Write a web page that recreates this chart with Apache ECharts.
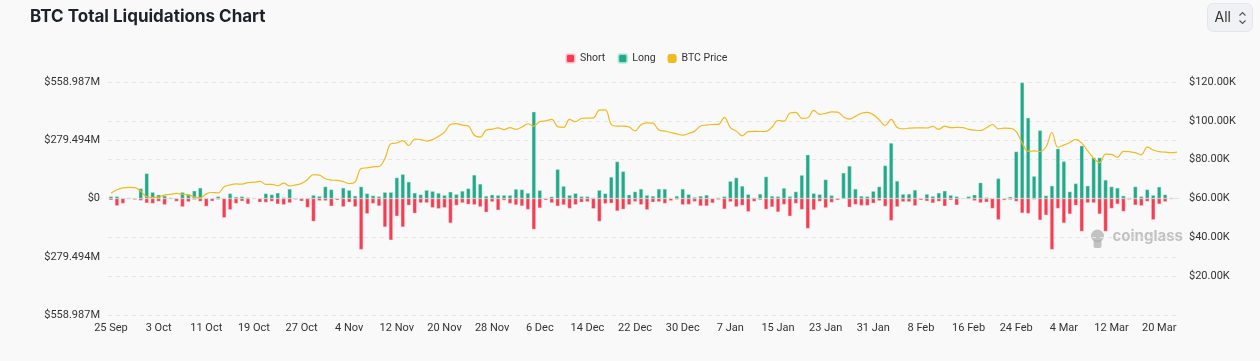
<!DOCTYPE html>
<html><head><meta charset="utf-8">
<script src="https://cdn.jsdelivr.net/npm/echarts@6/dist/echarts.min.js"></script>
<style>html,body{margin:0;padding:0;background:#f9f9f9;}#c{width:1260px;height:361px;}</style>
</head><body><div id="c"></div>
<script>
const dates = ['25 Sep','26 Sep','27 Sep','28 Sep','29 Sep','30 Sep',
'1 Oct','2 Oct','3 Oct','4 Oct','5 Oct','6 Oct','7 Oct','8 Oct','9 Oct','10 Oct','11 Oct','12 Oct','13 Oct','14 Oct','15 Oct','16 Oct','17 Oct','18 Oct','19 Oct','20 Oct','21 Oct','22 Oct','23 Oct','24 Oct','25 Oct','26 Oct','27 Oct','28 Oct','29 Oct','30 Oct','31 Oct',
'1 Nov','2 Nov','3 Nov','4 Nov','5 Nov','6 Nov','7 Nov','8 Nov','9 Nov','10 Nov','11 Nov','12 Nov','13 Nov','14 Nov','15 Nov','16 Nov','17 Nov','18 Nov','19 Nov','20 Nov','21 Nov','22 Nov','23 Nov','24 Nov','25 Nov','26 Nov','27 Nov','28 Nov','29 Nov','30 Nov',
'1 Dec','2 Dec','3 Dec','4 Dec','5 Dec','6 Dec','7 Dec','8 Dec','9 Dec','10 Dec','11 Dec','12 Dec','13 Dec','14 Dec','15 Dec','16 Dec','17 Dec','18 Dec','19 Dec','20 Dec','21 Dec','22 Dec','23 Dec','24 Dec','25 Dec','26 Dec','27 Dec','28 Dec','29 Dec','30 Dec','31 Dec',
'1 Jan','2 Jan','3 Jan','4 Jan','5 Jan','6 Jan','7 Jan','8 Jan','9 Jan','10 Jan','11 Jan','12 Jan','13 Jan','14 Jan','15 Jan','16 Jan','17 Jan','18 Jan','19 Jan','20 Jan','21 Jan','22 Jan','23 Jan','24 Jan','25 Jan','26 Jan','27 Jan','28 Jan','29 Jan','30 Jan','31 Jan',
'1 Feb','2 Feb','3 Feb','4 Feb','5 Feb','6 Feb','7 Feb','8 Feb','9 Feb','10 Feb','11 Feb','12 Feb','13 Feb','14 Feb','15 Feb','16 Feb','17 Feb','18 Feb','19 Feb','20 Feb','21 Feb','22 Feb','23 Feb','24 Feb','25 Feb','26 Feb','27 Feb','28 Feb',
'1 Mar','2 Mar','3 Mar','4 Mar','5 Mar','6 Mar','7 Mar','8 Mar','9 Mar','10 Mar','11 Mar','12 Mar','13 Mar','14 Mar','15 Mar','16 Mar','17 Mar','18 Mar','19 Mar','20 Mar','21 Mar','22 Mar','23 Mar'];

// Long liquidations, $M
const longLiq = [10,10,3,3,1,48,120,30,18,13,
4,2,30,18,37,51,2,1,10,2,
24,8,10,5,1,0.5,24,19,27,5,
46,1,1,3,16,11,57,43,2,51,
40,13,57,24,14,10,30,30,100,116,
80,27,19,40,35,26,16,32,20,36,
48,113,70,12,18,16,16,16,45,43,
26,416,39,2,9,140,59,16,25,10,
10,4,40,24,103,177,130,18,33,46,
16,12,46,46,2,12,46,20,6,12,
17,1,4,10,83,100,60,20,4,22,
105,12,10,50,10,33,112,210,25,20,
91,15,1,123,156,46,12,10,35,57,
158,266,84,21,22,41,2,21,11,27,
37,16,10,1,10,18,76,5,2,96,
1,8,225,556,387,107,327,14,61,239,
178,33,72,253,61,196,196,89,57,51,
13,3,57,10,43,16,56,19,3,0.5];

// Short liquidations, $M (drawn below zero)
const shortLiq = [8,35,24,3,6,10,22,24,14,30,
3,14,40,16,6,14,38,13,5,92,
54,24,13,27,3,18,19,14,27,30,
21,5,13,43,110,11,11,37,8,40,
18,40,245,73,24,36,137,200,85,137,
33,71,21,21,44,49,44,118,33,21,
28,30,40,66,16,56,9,24,31,36,
53,148,46,8,21,37,31,48,30,18,
16,49,110,25,23,60,52,30,15,30,
54,18,16,24,11,5,30,29,15,36,
36,22,6,51,16,40,33,63,14,7,
52,41,65,29,85,24,53,144,55,14,
45,19,8,3,42,29,34,34,23,11,
38,106,40,16,16,35,8,13,22,14,
37,8,32,2,3,11,21,18,48,102,
8,6,14,70,72,5,104,80,245,48,
118,75,33,158,21,21,75,158,48,27,
62,5,32,35,14,102,27,16,3,0.5];

// BTC price, $K
const btcPrice = [62.7,64.5,65.5,65.7,65.6,63.8,60.9,60.6,60.7,61.9,
62.1,62.6,62.2,62.0,60.7,60.3,62.4,63.1,62.9,66.0,
67.0,67.5,67.4,68.2,68.4,68.8,67.3,67.3,66.6,67.9,
66.5,67.0,67.8,69.8,72.3,72.0,70.2,69.5,69.3,68.7,
67.7,68.6,75.4,75.8,76.3,76.5,80.5,88.2,88.6,89.8,
87.3,90.6,90.4,89.6,90.3,92.0,94.2,98.1,98.6,97.8,
97.3,92.6,91.6,95.2,95.7,96.4,95.5,96.5,95.6,96.8,
98.5,97.3,99.6,100.0,100.7,97.0,96.6,100.7,99.6,101.2,
101.4,101.5,105.5,105.6,98.2,97.3,97.3,96.8,94.8,98.0,
99.0,98.8,95.3,94.7,94.0,93.3,92.6,93.5,94.7,97.3,
97.8,98.1,98.2,101.8,96.5,94.7,92.3,94.4,94.6,94.5,
94.6,96.8,100.2,99.8,104.0,104.4,101.3,101.6,105.4,103.3,
103.9,104.6,104.5,102.0,100.9,102.3,103.9,104.4,103.2,100.5,
97.6,100.7,96.6,95.9,96.2,96.4,96.4,96.3,97.1,95.6,
97.3,96.5,96.6,96.5,95.6,95.2,95.0,96.4,98.1,95.9,
96.2,96.1,94.5,88.5,84.4,84.5,84.2,86.5,94.0,86.4,
87.5,88.8,90.4,88.5,84.5,80.8,78.5,82.9,82.7,81.2,
84.3,84.1,83.6,82.5,86.5,85.0,84.1,83.9,83.6,83.9];

const leftTicks = [-558.987, -279.4935, 0, 279.4935, 558.987];

const RED = '#f43d52', GREEN = '#22a98a', GOLD = '#f0bb1f';
const AXF = 'Roboto, "Noto Sans", sans-serif';
const chart = echarts.init(document.getElementById('c'), null, {renderer: 'canvas'});
const fmtM = v => Math.abs(v) < 1e-6 ? '$0' : '$' + (Math.abs(v) + 1e-7).toFixed(3) + 'M';

chart.setOption({
  backgroundColor: '#f9f9f9',
  animation: false,
  textStyle: {fontFamily: AXF},
  legend: {
    top: 48, left: 560, itemWidth: 9, itemHeight: 9, itemGap: 12,
    textStyle: {fontSize: 10.5, color: '#333', fontFamily: AXF},
    data: [{name: 'Short', icon: 'roundRect'}, {name: 'Long', icon: 'roundRect'}, {name: 'BTC Price', icon: 'roundRect'}]
  },
  grid: {left: 108, right: 80, top: 82, bottom: 46},
  xAxis: {
    type: 'category', data: dates, boundaryGap: true,
    axisLine: {show: false}, axisTick: {show: false},
    axisLabel: {interval: 7, color: '#333', fontSize: 11, margin: 8, fontFamily: AXF}
  },
  yAxis: [{
    type: 'value', min: leftTicks[0], max: leftTicks[4], interval: leftTicks[3],
    axisLabel: {formatter: fmtM, color: '#333', fontSize: 11, margin: 8, fontFamily: AXF},
    splitLine: {lineStyle: {type: [4, 4], color: '#e6e6e6'}},
    axisLine: {show: false}, axisTick: {show: false}
  }, {
    type: 'value', min: 0, max: 120, interval: 20, position: 'right',
    axisLabel: {formatter: v => v === 0 ? '' : '$' + v.toFixed(2) + 'K', color: '#333', fontSize: 11, margin: 9, fontFamily: AXF},
    splitLine: {lineStyle: {type: [4, 4], color: '#e6e6e6'}},
    axisLine: {show: false}, axisTick: {show: false}
  }],
  series: [{
    name: 'Short', type: 'bar', stack: 'liq', barWidth: 4,
    itemStyle: {color: RED, borderColor: 'rgba(255,210,215,0.8)', borderWidth: 0.5},
    data: shortLiq.map(v => -v)
  }, {
    name: 'Long', type: 'bar', stack: 'liq', barWidth: 4,
    itemStyle: {color: GREEN, borderColor: 'rgba(190,235,220,0.8)', borderWidth: 0.5},
    data: longLiq
  }, {
    name: 'BTC Price', type: 'line', yAxisIndex: 1, smooth: 0.4, showSymbol: false,
    lineStyle: {width: 1.2, color: GOLD}, itemStyle: {color: GOLD},
    data: btcPrice, z: 5
  }],
  graphic: [
    {type: 'text', left: 30, top: 8, style: {text: 'BTC Total Liquidations Chart', font: 'bold 17px Inter, "Noto Sans", sans-serif', fill: '#1d2129'}},
    {type: 'group', left: 1207, top: 3, children: [
      {type: 'rect', shape: {x: 0, y: 0, width: 45, height: 28, r: 6}, style: {fill: '#eff1f4', stroke: '#e2e5ea', lineWidth: 1}},
      {type: 'text', x: 7, y: 7, style: {text: 'All', font: '14px Inter, sans-serif', fill: '#333'}},
      {type: 'polyline', shape: {points: [[32, 12], [35, 9], [38, 12]]}, style: {stroke: '#555', lineWidth: 1.1, fill: null}},
      {type: 'polyline', shape: {points: [[32, 17], [35, 20], [38, 17]]}, style: {stroke: '#555', lineWidth: 1.1, fill: null}}
    ]},
    {type: 'group', left: 1091, top: 229, children: [
      {type: 'circle', shape: {cx: 9, cy: 8, r: 6.5}, style: {fill: 'rgba(175,175,175,0.75)'}},
      {type: 'rect', shape: {x: 5, y: 12, width: 8, height: 8, r: 2}, style: {fill: 'rgba(175,175,175,0.75)'}},
      {type: 'text', x: 24, y: 1, style: {text: 'coinglass', font: 'bold 15px Inter, sans-serif', fill: 'rgba(175,175,175,0.75)'}}
    ]}
  ]
});
</script></body></html>
